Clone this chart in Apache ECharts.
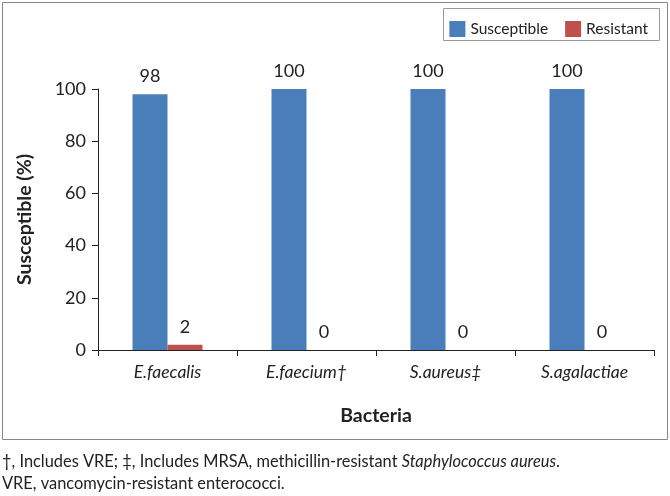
<!DOCTYPE html>
<html><head><meta charset="utf-8">
<script src="https://cdn.jsdelivr.net/npm/echarts@6/dist/echarts.min.js"></script>
<style>html,body{margin:0;padding:0;background:#fff}#c{width:670px;height:496px}</style>
</head><body><div id="c"></div>
<script>
const categories = ['E.faecalis', 'E.faecium†', 'S.aureus‡', 'S.agalactiae'];
const susceptible = [98, 100, 100, 100];
const resistant = [2, 0, 0, 0];
const yTicks = [0, 20, 40, 60, 80, 100];

const FONT = 'Lato, "Open Sans", sans-serif';
const chart = echarts.init(document.getElementById('c'), null, {renderer: 'canvas'});
chart.setOption({
  animation: false,
  textStyle: {fontFamily: FONT},
  grid: {left: 98, right: 16, top: 89, bottom: 146},
  legend: {
    data: ['Susceptible', 'Resistant'],
    top: 16, right: 17, itemWidth: 16, itemHeight: 16, itemGap: 17,
    textStyle: {fontSize: 15.5, color: '#222', fontFamily: FONT},
    icon: 'rect'
  },
  xAxis: {
    type: 'category', data: categories,
    name: 'Bacteria', nameLocation: 'middle', nameGap: 56,
    nameTextStyle: {fontSize: 19.5, fontWeight: 'bold', color: '#222', fontFamily: FONT},
    axisLine: {lineStyle: {color: '#222', width: 1}},
    axisTick: {show: true, length: 6, lineStyle: {color: '#222'}},
    axisLabel: {fontSize: 17.5, fontStyle: 'italic', color: '#222', margin: 13, fontFamily: FONT}
  },
  yAxis: {
    type: 'value', min: yTicks[0], max: yTicks[yTicks.length - 1], interval: 20,
    name: 'Susceptible (%)', nameLocation: 'middle', nameGap: 63,
    nameTextStyle: {fontSize: 19.5, fontWeight: 'bold', color: '#222', fontFamily: FONT},
    axisLine: {show: true, lineStyle: {color: '#222', width: 1}},
    axisTick: {show: true, length: 6, lineStyle: {color: '#222'}},
    axisLabel: {fontSize: 18, color: '#222', margin: 12, fontFamily: FONT},
    splitLine: {show: false}
  },
  series: [
    {name: 'Susceptible', type: 'bar', data: susceptible, barWidth: 35, barGap: '0%',
     itemStyle: {color: '#4a7ebb'},
     label: {show: true, position: 'top', distance: 9, fontSize: 18, color: '#222', fontFamily: FONT}},
    {name: 'Resistant', type: 'bar', data: resistant, barWidth: 35, barGap: '0%',
     itemStyle: {color: '#c0504d'},
     label: {show: true, position: 'top', distance: 9, fontSize: 18, color: '#222', fontFamily: FONT}}
  ],
  graphic: [
    {type: 'rect', shape: {x: 2.5, y: 2.5, width: 665, height: 437}, style: {fill: 'none', stroke: '#888', lineWidth: 1}, silent: true},
    {type: 'rect', shape: {x: 443.5, y: 8.5, width: 216, height: 32}, style: {fill: 'none', stroke: '#999', lineWidth: 1}, silent: true},
    {type: 'text', left: 2, top: 454, style: {
      text: '†, Includes VRE; ‡, Includes MRSA, methicillin-resistant {i|Staphylococcus aureus}.',
      font: '16.4px ' + FONT, fill: '#222',
      rich: {i: {fontStyle: 'italic', fontSize: 16.4, fontFamily: FONT, fill: '#222'}}
    }},
    {type: 'text', left: 2, top: 476, style: {
      text: 'VRE, vancomycin-resistant enterococci.', font: '16.4px ' + FONT, fill: '#222'
    }}
  ]
});
</script></body></html>
